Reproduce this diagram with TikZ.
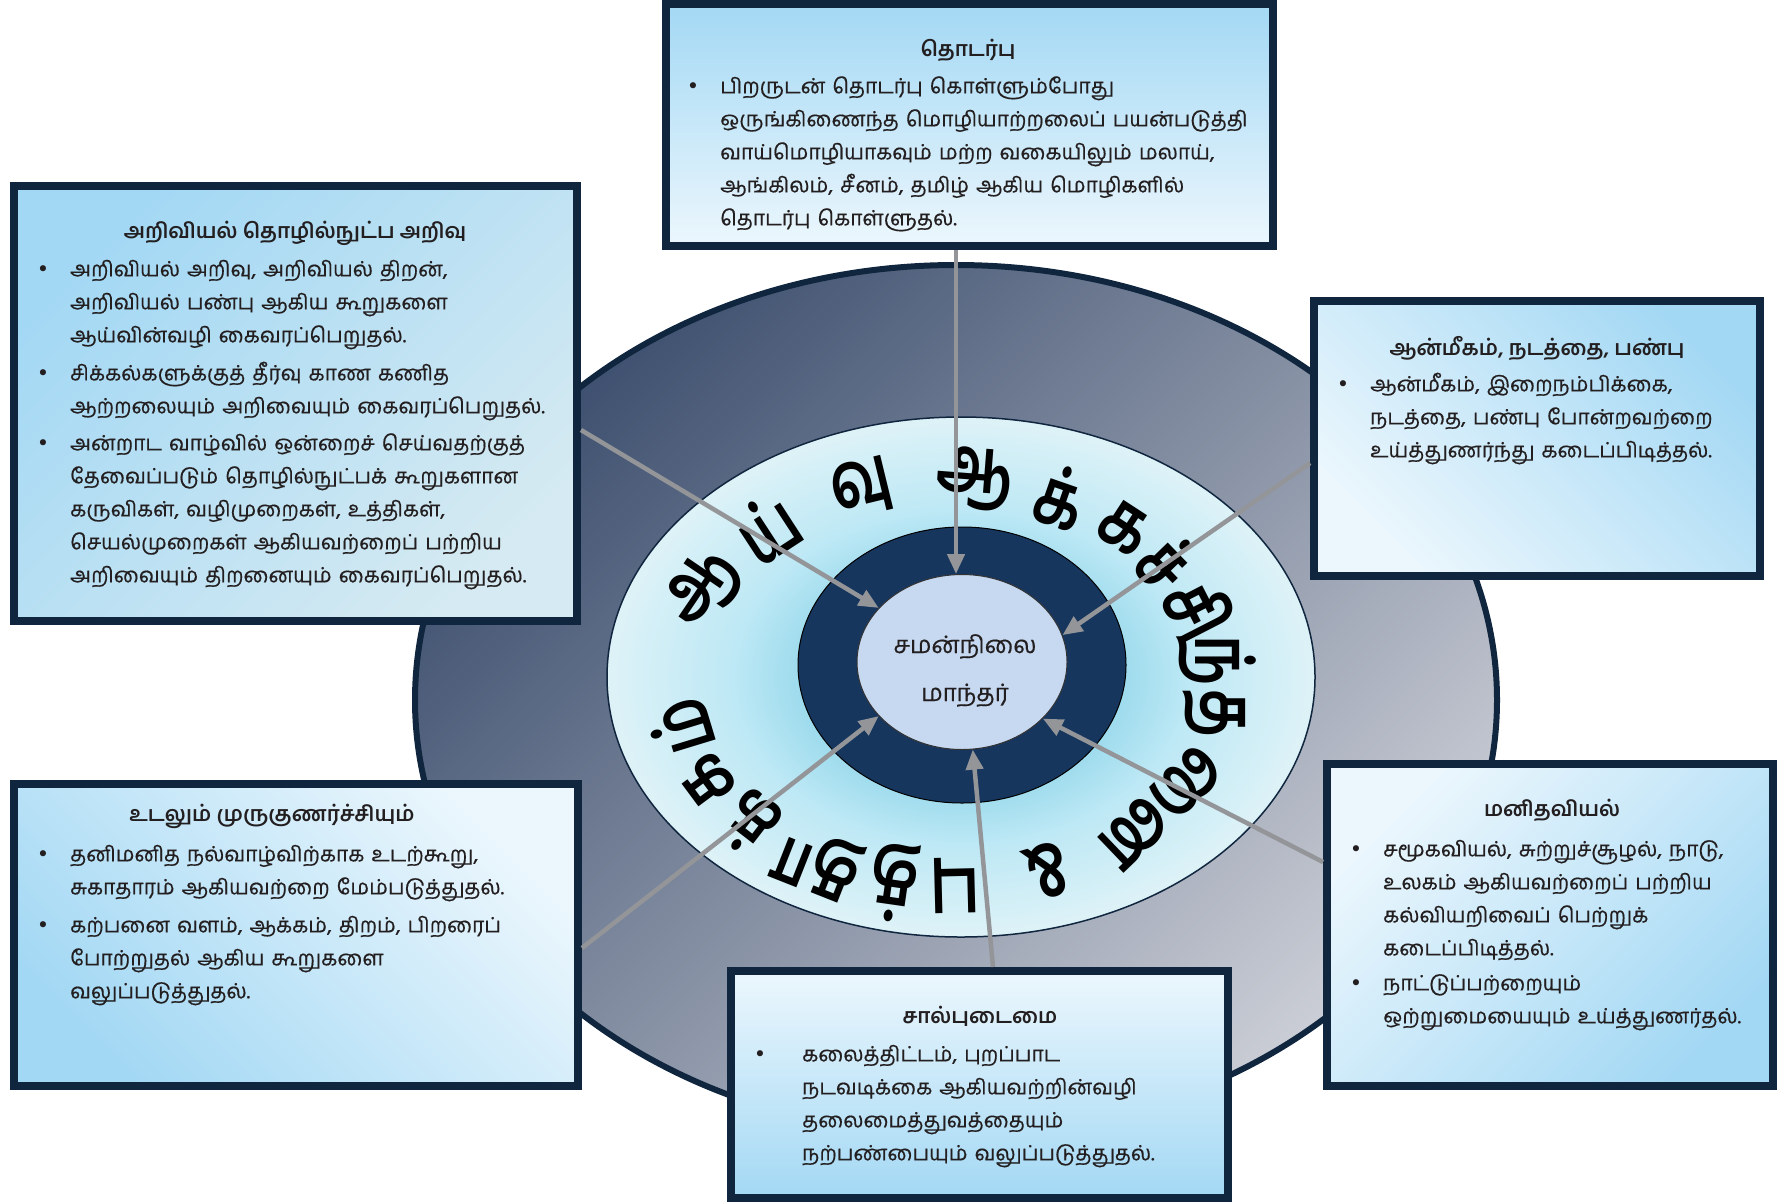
\documentclass[tikz,border=0pt]{standalone}
\usepackage{fontspec}
\usetikzlibrary{arrows.meta,shapes.geometric}
\newfontfamily\tam[Script=Tamil]{Hind Madurai}
\newfontfamily\tambody[Script=Tamil,FakeBold=0.5]{Hind Madurai}
\newfontfamily\tamring[Script=Tamil,FakeStretch=0.76]{Hind Madurai}
\newfontfamily\dv{DejaVu Sans}
\definecolor{navy}{HTML}{10263F}
\definecolor{slateA}{HTML}{3F5170}
\definecolor{slateB}{HTML}{CBCED6}
\definecolor{ringnavy}{HTML}{17365D}
\definecolor{innerfill}{HTML}{C6D9F1}
\definecolor{arrgray}{HTML}{939598}
\definecolor{txt}{HTML}{231F20}
\definecolor{boxblue}{HTML}{A3D8F4}
\definecolor{boxlight}{HTML}{ECF7FD}
\definecolor{boxpale}{HTML}{D5EAF2}
\pgfdeclareradialshading{ringshade}{\pgfpoint{0bp}{0bp}}{rgb(0bp)=(0.62,0.86,0.93); rgb(11.5bp)=(0.62,0.86,0.93); rgb(16bp)=(0.74,0.91,0.96); rgb(25bp)=(0.87,0.95,0.97); rgb(50bp)=(0.87,0.95,0.97)}
\newcommand\tbul[1][21pt]{\noindent\strut\llap{{\dv •}\hspace{#1}}}
\begin{document}
\begin{tikzpicture}[x=1pt,y=-1pt,
  box/.style={rectangle, draw=navy, line width=8pt, inner sep=0pt},
  arr/.style={draw=arrgray, line width=4.5pt, -{Triangle[length=20pt,width=17pt]}},
  ttl/.style={font=\tam\bfseries\fontsize{21}{26}\selectfont, text=txt, inner sep=0pt, anchor=base},
  body/.style={font=\tambody\fontsize{21}{33}\selectfont, text=txt, inner sep=0pt, anchor=north west, align=left, text width=600pt, execute at begin node={\lineskiplimit=-100pt\lineskip=0pt}},
  ringtxt/.style={font=\tamring\bfseries\fontsize{78}{78}\selectfont, text=black, inner sep=0pt},
  cen/.style={font=\tambody\fontsize{24}{28}\selectfont, text=txt, inner sep=0pt, anchor=base}
]
\useasboundingbox (0,0) rectangle (1787,1203);
\fill[white] (0,0) rectangle (1787,1203);
% outer ellipse
\draw[draw=navy, line width=6pt, top color=slateA, bottom color=slateB, shading angle=45] (956,700) ellipse [x radius=541pt, y radius=435pt];
% middle ellipse
\shadedraw[shading=ringshade, draw=navy, line width=1.5pt] (961,677) ellipse [x radius=354pt, y radius=260pt];
% dark ring and inner circle
\node[ellipse, fill=ringnavy, draw=black, line width=1pt, minimum width=328pt, minimum height=276pt, inner sep=0pt] (ring) at (962,665) {};
\node[ellipse, fill=innerfill, draw=black!80, line width=1pt, minimum width=210pt, minimum height=175pt, inner sep=0pt] (inner) at (962,662) {};
\node[cen] (c1) at (965,653) {சமன்நிலை};
\node[cen] (c2) at (965,701) {மாந்தர்};
% ring text
\foreach \t/\g [count=\i] in {153/ஆ,131/ய்,108/வு,84/ஆ,65/க்,49/க,36/ச்,21/சி,6/ந்,-9/த,-38/னை,-68/\&,-88/பு,-101/த்,-118/தா,-136/க்,-151/க,-167/ம்}{
  \pgfmathsetmacro\rot{atan2(sin(\t)/202,cos(\t)/270)-90}
  \node[ringtxt, rotate=\rot] (r\i) at ({946+272*cos(\t)},{682-204*sin(\t)}) {\g};
}
% boxes
\node[box, top color=boxblue, bottom color=boxlight, minimum width=607pt, minimum height=242pt] (b6) at (969.5,125) {};
\node[box, top color=boxblue, bottom color=boxpale, shading angle=45, minimum width=563pt, minimum height=435pt] (b1) at (295.5,403.5) {};
\node[box, top color=boxblue, bottom color=boxlight, shading angle=-45, minimum width=446pt, minimum height=275pt] (b2) at (1537,438.5) {};
\node[box, top color=boxlight, bottom color=boxblue, shading angle=-45, minimum width=564pt, minimum height=302pt] (b3) at (296,935) {};
\node[box, top color=boxlight, bottom color=boxblue, shading angle=45, minimum width=446pt, minimum height=322pt] (b4) at (1550,925) {};
\node[box, top color=boxlight, bottom color=boxblue, minimum width=497pt, minimum height=227pt] (b5) at (979.5,1084.5) {};
% arrows
\draw[arr] ([xshift=-6pt]inner.north |- b6.south) -- ([xshift=-6pt]inner.north);
\draw[arr] ([yshift=-26.5pt]b1.east) -- (inner.147);
\draw[arr] ([yshift=-24.5pt]b2.west) -- (inner.15);
\draw[arr] ([yshift=-13pt]b3.east) -- (inner.213);
\draw[arr] ([xshift=13.5pt]b5.north) -- (inner.277);
\draw[arr] ([yshift=63pt]b4.west) -- (inner.325);
% titles
\node[ttl] (b6h) at (968,56) {தொடர்பு};
\node[ttl] (b1h) at (295,238) {அறிவியல் தொழில்நுட்ப அறிவு};
\node[ttl] (b2h) at (1537,355) {ஆன்மீகம், நடத்தை, பண்பு};
\node[ttl] (b3h) at (272,821) {உடலும் முருகுணர்ச்சியும்};
\node[ttl] (b4h) at (1552,816) {மனிதவியல்};
\node[ttl] (b5h) at (980,1023) {சால்புடைமை};
% bodies
\node[body] (b6t) at (720,70) {\tbul பிறருடன் தொடர்பு கொள்ளும்போது\\ஒருங்கிணைந்த மொழியாற்றலைப் பயன்படுத்தி\\வாய்மொழியாகவும் மற்ற வகையிலும் மலாய்,\\ஆங்கிலம், சீனம், தமிழ் ஆகிய மொழிகளில்\\தொடர்பு கொள்ளுதல்.};
\node[body] (b1t) at (70,253) {\tbul அறிவியல் அறிவு, அறிவியல் திறன்,\\அறிவியல் பண்பு ஆகிய கூறுகளை\\ஆய்வின்வழி கைவரப்பெறுதல்.\\[5pt]\tbul சிக்கல்களுக்குத் தீர்வு காண கணித\\ஆற்றலையும் அறிவையும் கைவரப்பெறுதல்.\\[4pt]\tbul அன்றாட வாழ்வில் ஒன்றைச் செய்வதற்குத்\\தேவைப்படும் தொழில்நுட்பக் கூறுகளான\\கருவிகள், வழிமுறைகள், உத்திகள்,\\செயல்முறைகள் ஆகியவற்றைப் பற்றிய\\அறிவையும் திறனையும் கைவரப்பெறுதல்.};
\node[body] (b2t) at (1370,368) {\tbul ஆன்மீகம், இறைநம்பிக்கை,\\நடத்தை, பண்பு போன்றவற்றை\\உய்த்துணர்ந்து கடைப்பிடித்தல்.};
\node[body] (b3t) at (70,838) {\tbul தனிமனித நல்வாழ்விற்காக உடற்கூறு,\\சுகாதாரம் ஆகியவற்றை மேம்படுத்துதல்.\\[5pt]\tbul கற்பனை வளம், ஆக்கம், திறம், பிறரைப்\\போற்றுதல் ஆகிய கூறுகளை\\வலுப்படுத்துதல்.};
\node[body] (b4t) at (1383,833) {\tbul சமூகவியல், சுற்றுச்சூழல், நாடு,\\உலகம் ஆகியவற்றைப் பற்றிய\\கல்வியறிவைப் பெற்றுக்\\கடைப்பிடித்தல்.\\[2pt]\tbul நாட்டுப்பற்றையும்\\ஒற்றுமையையும் உய்த்துணர்தல்.};
\node[body] (b5t) at (802,1038) {\tbul[36pt]கலைத்திட்டம், புறப்பாட\\நடவடிக்கை ஆகியவற்றின்வழி\\தலைமைத்துவத்தையும்\\நற்பண்பையும் வலுப்படுத்துதல்.};
\end{tikzpicture}
\end{document}
